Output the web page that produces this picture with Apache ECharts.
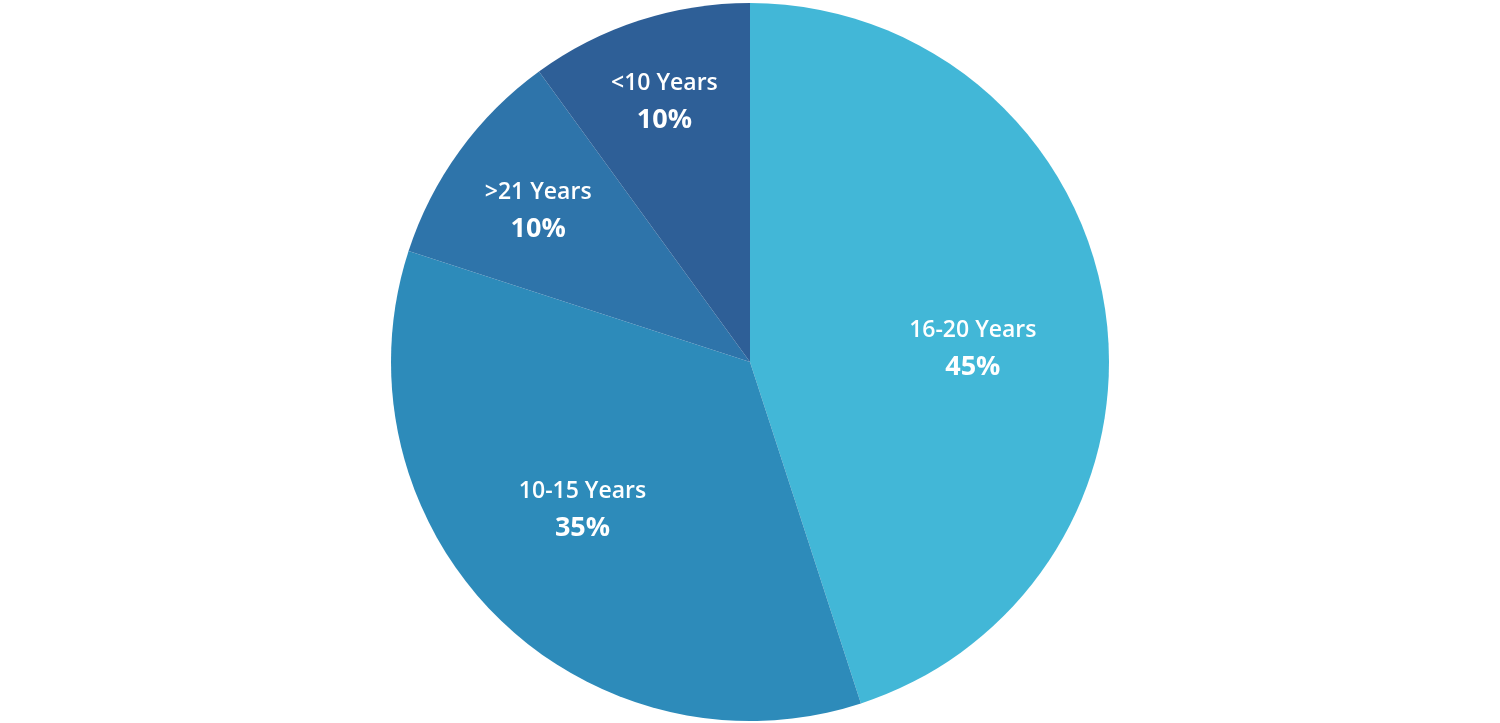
<!DOCTYPE html>
<html>
<head>
<meta charset="utf-8">
<style>html,body{margin:0;padding:0;background:#fff;}#chart{width:1500px;height:723px;}</style>
<script src="https://cdn.jsdelivr.net/npm/echarts@6/dist/echarts.min.js"></script>
</head>
<body>
<div id="chart"></div>
<script>
const categories = ['16-20 Years', '10-15 Years', '>21 Years', '<10 Years'];
const values = [45, 35, 10, 10];
const colors = ['#42B7D7', '#2D8BBA', '#2E74AA', '#2E5F97'];

const R = 359;
const center = [750, 362];
const font = '"Open Sans", "Noto Sans", sans-serif';
// small label nudges (pixels) relative to library-computed inside label positions
const labelNudge = [[0, 22], [-8, -12], [7, 8], [-2, -3]];

const labelStyle = {
  show: true,
  position: 'inside',
  formatter: p => '{n|' + p.name + '}\n{p|' + p.value + '%}',
  rich: {
    n: { color: '#fff', fontSize: 23, fontWeight: 600, fontFamily: font, lineHeight: 37, align: 'center' },
    p: { color: '#fff', fontSize: 27, fontWeight: 'bold', fontFamily: font, lineHeight: 37, align: 'center' }
  }
};

function labelSeries(outer, showFn) {
  return {
    type: 'pie',
    silent: true,
    center: center,
    radius: [0, outer],
    startAngle: 90,
    clockwise: true,
    animation: false,
    z: 5,
    itemStyle: { color: 'rgba(0,0,0,0)' },
    labelLine: { show: false },
    data: categories.map((c, i) => ({
      name: c,
      value: values[i],
      label: Object.assign({}, labelStyle, { show: showFn(i), offset: labelNudge[i] })
    }))
  };
}

const chart = echarts.init(document.getElementById('chart'), null, { renderer: 'canvas' });
chart.setOption({
  backgroundColor: '#fff',
  series: [
    {
      type: 'pie',
      center: center,
      radius: [0, R],
      startAngle: 90,
      clockwise: true,
      animation: false,
      label: { show: false },
      labelLine: { show: false },
      itemStyle: { borderWidth: 0 },
      data: categories.map((c, i) => ({ name: c, value: values[i], itemStyle: { color: colors[i] } }))
    },
    labelSeries(2 * 0.62 * R, i => values[i] > 20),
    labelSeries(2 * 0.745 * R, i => values[i] <= 20)
  ]
});
</script>
</body>
</html>
